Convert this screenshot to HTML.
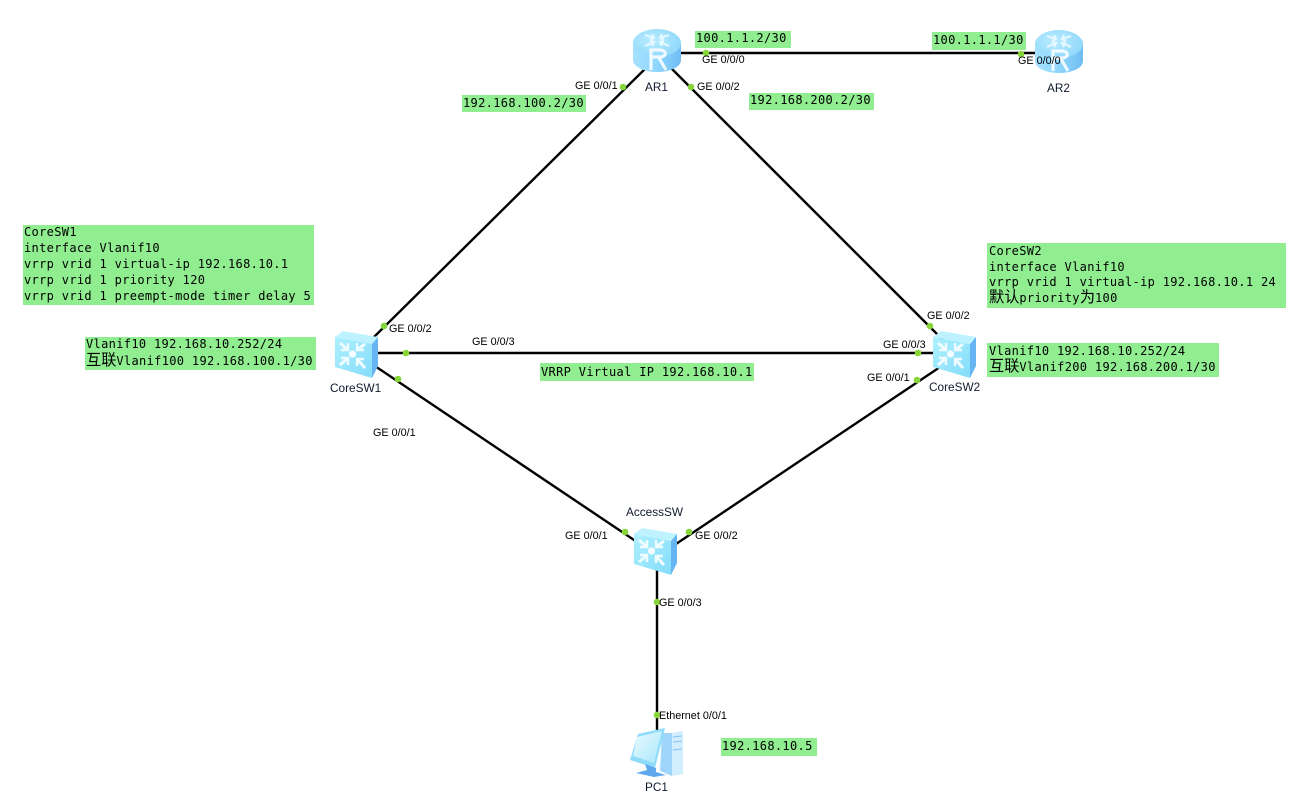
<!DOCTYPE html>
<html><head><meta charset="utf-8">
<style>
html,body{margin:0;padding:0;background:#fff;width:1312px;height:810px;overflow:hidden}
svg{display:block}
.m{font-family:"DejaVu Sans Mono","Liberation Mono","Noto Sans CJK SC",monospace;font-size:12px;fill:#000;letter-spacing:.33px}
.c{font-family:"WenQuanYi Zen Hei","Noto Sans CJK SC",monospace;font-size:15.2px;letter-spacing:0}
.s{font-family:"Liberation Sans",sans-serif;font-size:10.8px;fill:#000}
.n{font-family:"Liberation Sans",sans-serif;font-size:11.8px;fill:#111a30}
.b{fill:#90ee90}
.d{fill:#86d63a}
.l{stroke:#000;stroke-width:2.4;fill:none}
</style></head><body>
<svg width="1312" height="810" viewBox="0 0 1312 810" xmlns="http://www.w3.org/2000/svg">
<defs>
<linearGradient id="gr" x1="0" x2="1" y1="0" y2="0"><stop offset="0" stop-color="#a6e2ff"/><stop offset=".5" stop-color="#8fd6fc"/><stop offset="1" stop-color="#6ebdf3"/></linearGradient>
<radialGradient id="gt" cx=".4" cy=".4" r=".7"><stop offset="0" stop-color="#b8ecff"/><stop offset="1" stop-color="#8ed6fa"/></radialGradient>
<linearGradient id="gs" x1="0" x2="1" y1="0" y2="1"><stop offset="0" stop-color="#aef0ff"/><stop offset="1" stop-color="#84dcfa"/></linearGradient>
<linearGradient id="gm" x1="0" x2="1" y1="0" y2="1"><stop offset="0" stop-color="#eafbff"/><stop offset="1" stop-color="#a8e6fb"/></linearGradient>
<g id="router">
<path d="M0 14V31C0 38 11 43 24 43S48 38 48 31V14Z" fill="url(#gr)"/>
<ellipse cx="24" cy="14" rx="24" ry="14" fill="url(#gt)"/>
<g fill="none" stroke="#e4f8ff" stroke-width="2.2">
<path d="M12 6L21 9M19 5L21 9L17 11"/>
<path d="M36 6L27 9M29 5L27 9L31 11"/>
<path d="M12 17L21 13M17 12L21 13L19 17"/>
<path d="M36 17L27 13M31 12L27 13L29 17"/>
</g>
<path d="M18 41V28H27C34 28 34 21 27 21H18V30M26 29L33 41" fill="none" stroke="#eefaff" stroke-width="3.2"/>
</g>
<g id="switch">
<path d="M0 6L8 0L43 6L37 13Z" fill="#bff2ff"/>
<path d="M0 6L37 13V47L0 36Z" fill="url(#gs)"/>
<path d="M37 13L43 6V35L37 47Z" fill="#66b4f2"/>
<g stroke="#effcff" fill="none">
<path d="M5 12L13 19M30 13L22 19M5 34L13 27M30 37L22 28" stroke-width="3"/>
<path d="M13 12V19H6M22 12V19H29M13 34V27H6M22 35V28H29" stroke-width="2.4"/>
</g>
<circle cx="17.5" cy="23" r="3.6" fill="#f4fdff"/>
</g>
<g id="pc">
<path d="M32 5L42 5V48L30 43Z" fill="#9fd4fb"/>
<path d="M42 5L53 3V46L42 48Z" fill="#d3eeff"/>
<path d="M43 9L52 8M43 14L52 13M43 22L52 21" stroke="#8fc8f4" stroke-width="1.2"/>
<path d="M8 6L35 0L25 40L0 32Z" fill="#8edcfa"/>
<path d="M7 9L32 3L24 35L3 28Z" fill="url(#gm)"/>
<path d="M15 36L26 40L26 44L36 47L24 49L6 45L17 42Z" fill="#5fa8ee"/>
</g>
</defs>

<g class="l">
<path d="M657 53H1040"/>
<path d="M648 66L372 339"/>
<path d="M666 63L950 347"/>
<path d="M360 353H950"/>
<path d="M360 356L640 544"/>
<path d="M955 357L670 548"/>
<path d="M657 560V732"/>
</g>

<rect class="b" x="695" y="31" width="96" height="17"/>
<rect class="b" x="462" y="95" width="124" height="17"/>
<rect class="b" x="749" y="93" width="125" height="17"/>
<rect class="b" x="932" y="32" width="94" height="18"/>
<rect class="b" x="23" y="225" width="291" height="80"/>
<rect class="b" x="85" y="337" width="231" height="33"/>
<rect class="b" x="987" y="243" width="299" height="65"/>
<rect class="b" x="987" y="343" width="232" height="34"/>
<rect class="b" x="540" y="363" width="214" height="18"/>
<rect class="b" x="721" y="738" width="96" height="18"/>

<use href="#router" x="633" y="29"/>
<use href="#router" x="1035" y="30"/>
<use href="#switch" x="335" y="331"/>
<use href="#switch" x="933" y="331"/>
<use href="#switch" x="634" y="528"/>
<use href="#pc" x="630" y="728"/>

<g>
<circle class="d" cx="706" cy="53" r="3.3"/><circle class="d" cx="1021" cy="54" r="3.3"/>
<circle class="d" cx="623" cy="87" r="3.3"/><circle class="d" cx="691" cy="87" r="3.3"/>
<circle class="d" cx="384" cy="326" r="3.3"/><circle class="d" cx="406" cy="353" r="3.3"/><circle class="d" cx="398" cy="379" r="3.3"/>
<circle class="d" cx="930" cy="326" r="3.3"/><circle class="d" cx="918" cy="353" r="3.3"/><circle class="d" cx="917" cy="380" r="3.3"/>
<circle class="d" cx="625" cy="532" r="3.3"/><circle class="d" cx="689" cy="532" r="3.3"/><circle class="d" cx="657" cy="602" r="3.3"/>
<circle class="d" cx="657" cy="715" r="3.3"/>
</g>

<text class="m" x="696" y="42">100.1.1.2/30</text>
<text class="m" x="463" y="107">192.168.100.2/30</text>
<text class="m" x="750" y="104">192.168.200.2/30</text>
<text class="m" x="933" y="44">100.1.1.1/30</text>
<text class="m" x="24" y="236">CoreSW1</text>
<text class="m" x="24" y="252">interface Vlanif10</text>
<text class="m" x="24" y="268">vrrp vrid 1 virtual-ip 192.168.10.1</text>
<text class="m" x="24" y="284">vrrp vrid 1 priority 120</text>
<text class="m" x="24" y="300">vrrp vrid 1 preempt-mode timer delay 5</text>
<text class="m" x="86" y="348">Vlanif10 192.168.10.252/24</text>
<text class="m" x="86" y="365"><tspan class="c">互联</tspan>Vlanif100 192.168.100.1/30</text>
<text class="m" x="989" y="255">CoreSW2</text>
<text class="m" x="989" y="271">interface Vlanif10</text>
<text class="m" x="989" y="286">vrrp vrid 1 virtual-ip 192.168.10.1 24</text>
<text class="m" x="989" y="302"><tspan class="c">默认</tspan>priority<tspan class="c">为</tspan>100</text>
<text class="m" x="989" y="355">Vlanif10 192.168.10.252/24</text>
<text class="m" x="989" y="371"><tspan class="c">互联</tspan>Vlanif200 192.168.200.1/30</text>
<text class="m" x="541" y="376">VRRP Virtual IP 192.168.10.1</text>
<text class="m" x="722" y="750">192.168.10.5</text>

<text class="s" x="702" y="63">GE 0/0/0</text>
<text class="s" x="1018" y="64">GE 0/0/0</text>
<text class="s" x="575" y="89">GE 0/0/1</text>
<text class="s" x="697" y="90">GE 0/0/2</text>
<text class="s" x="389" y="332">GE 0/0/2</text>
<text class="s" x="472" y="345">GE 0/0/3</text>
<text class="s" x="373" y="436">GE 0/0/1</text>
<text class="s" x="927" y="319">GE 0/0/2</text>
<text class="s" x="883" y="348">GE 0/0/3</text>
<text class="s" x="867" y="381">GE 0/0/1</text>
<text class="s" x="565" y="539">GE 0/0/1</text>
<text class="s" x="695" y="539">GE 0/0/2</text>
<text class="s" x="659" y="606">GE 0/0/3</text>
<text class="s" x="659" y="719">Ethernet 0/0/1</text>

<text class="n" x="645" y="91">AR1</text>
<text class="n" x="1047" y="92">AR2</text>
<text class="n" x="330" y="392">CoreSW1</text>
<text class="n" x="929" y="391">CoreSW2</text>
<text class="n" x="626" y="516">AccessSW</text>
<text class="n" x="645" y="791">PC1</text>
</svg>
</body></html>
